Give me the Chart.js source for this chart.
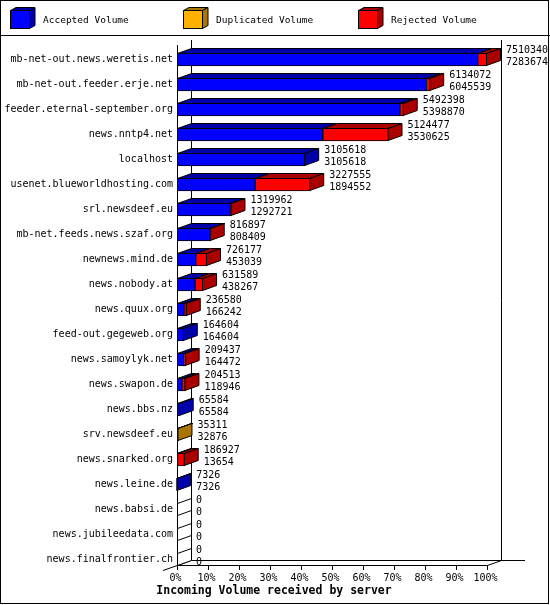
<!DOCTYPE html>
<html><head><meta charset="utf-8">
<script src="https://cdn.jsdelivr.net/npm/chart.js@4.4.0/dist/chart.umd.min.js"></script>
<style>html,body{margin:0;padding:0;background:#fff;}canvas{display:block;}</style>
</head><body>
<canvas id="c" width="550" height="605" style="width:550px;height:605px"></canvas>
<script>
const servers = [
  'mb-net-out.news.weretis.net','mb-net-out.feeder.erje.net','feeder.eternal-september.org',
  'news.nntp4.net','localhost','usenet.blueworldhosting.com','srl.newsdeef.eu',
  'mb-net.feeds.news.szaf.org','newnews.mind.de','news.nobody.at','news.quux.org',
  'feed-out.gegeweb.org','news.samoylyk.net','news.swapon.de','news.bbs.nz',
  'srv.newsdeef.eu','news.snarked.org','news.leine.de','news.babsi.de',
  'news.jubileedata.com','news.finalfrontier.ch'
];
const totalVolume = [7510340,6134072,5492398,5124477,3105618,3227555,1319962,816897,726177,631589,236580,164604,209437,204513,65584,35311,186927,7326,0,0,0];
const acceptedVolume = [7283674,6045539,5398870,3530625,3105618,1894552,1292721,808409,453039,438267,166242,164604,164472,118946,65584,32876,13654,7326,0,0,0];
const duplicatedVolume = [0,0,0,0,0,0,0,0,0,0,0,0,0,0,0,2435,0,0,0,0,0];
const rejectedVolume = [226666,88533,93528,1593852,0,1333003,27241,8488,273138,193322,70338,0,44965,85567,0,0,173273,0,0,0,0];
const tickLabels = ['0%','10%','20%','30%','40%','50%','60%','70%','80%','90%','100%'];
const seriesNames = ['Accepted Volume','Duplicated Volume','Rejected Volume'];
const axisTitle = 'Incoming Volume received by server';

const frontColors = ['#0000FF','#FFB000','#FF0000'];
const sideColors = ['#0000AA','#AA7500','#AA0000'];
const xMax = Math.max(...totalVolume);
const FONT = "'DejaVu Sans Mono','Liberation Mono',monospace";
const DX = 14, DY = -5;

function poly(ctx, pts, fill) {
  ctx.beginPath();
  ctx.moveTo(pts[0][0], pts[0][1]);
  for (let k = 1; k < pts.length; k++) ctx.lineTo(pts[k][0], pts[k][1]);
  ctx.closePath();
  if (fill) { ctx.fillStyle = fill; ctx.fill(); }
  ctx.strokeStyle = '#000'; ctx.lineWidth = 1; ctx.stroke();
}
function line(ctx, x1, y1, x2, y2) {
  ctx.beginPath(); ctx.moveTo(x1, y1); ctx.lineTo(x2, y2);
  ctx.strokeStyle = '#000'; ctx.lineWidth = 1; ctx.stroke();
}

const threeD = {
  id: 'threeD',
  beforeDatasetsDraw(chart) {
    const ctx = chart.ctx, xs = chart.scales.x;
    const L = Math.round(xs.getPixelForValue(0)), R = Math.round(xs.getPixelForValue(xMax));
    const fTop = 45, fBot = 565;
    ctx.save();
    line(ctx, L + 0.5, fTop, L + 0.5, fBot + 0.5);
    line(ctx, L + DX + 0.5, fTop + DY, L + DX + 0.5, fBot + DY + 0.5);
    line(ctx, R + DX + 0.5, fTop + DY, R + DX + 0.5, fBot + DY + 0.5);
    line(ctx, L + DX, fBot + DY + 0.5, 525, fBot + DY + 0.5);
    line(ctx, L, fBot + 0.5, R + 0.5, fBot + 0.5);
    line(ctx, R + 0.5, fBot + 0.5, R + DX + 0.5, fBot + DY + 0.5);
    line(ctx, L - DX, fBot - DY + 0.5, L + DX + 0.5, fBot + DY + 0.5);
    tickLabels.forEach((t, k) => {
      const px = Math.round(xs.getPixelForValue(xMax * k / 10)) + 0.5;
      line(ctx, px, fBot, px, fBot + 5);
    });
    ctx.restore();
  },
  afterDatasetsDraw(chart) {
    const ctx = chart.ctx, xs = chart.scales.x;
    const metas = [0, 1, 2].map(d => chart.getDatasetMeta(d));
    ctx.save();
    for (let i = 0; i < servers.length; i++) {
      let lastColor = null, end = null, top = 0, bot = 0, cy = 0;
      for (let d = 0; d < 3; d++) {
        const el = metas[d].data[i];
        const x0 = Math.min(el.base, el.x), x1 = Math.max(el.base, el.x);
        cy = el.y; top = el.y - el.height / 2 + 0.5; bot = el.y + el.height / 2 - 0.5;
        end = Math.max(end === null ? x1 : end, x1);
        if (x1 - x0 > 0.01) {
          lastColor = sideColors[d];
          poly(ctx, [[x0 + 0.5, top], [x1 - 0.5, top], [x1 - 0.5 + DX, top + DY], [x0 + 0.5 + DX, top + DY]], sideColors[d]);
        }
      }
      const ex = lastColor ? end - 0.5 : end + 0.5;
      poly(ctx, [[ex, top], [ex + DX, top + DY], [ex + DX, bot + DY], [ex, bot]], lastColor || '#fff');
      ctx.fillStyle = '#000';
      ctx.font = '10px ' + FONT;
      ctx.textAlign = 'left'; ctx.textBaseline = 'alphabetic';
      const tx = xs.getPixelForValue(totalVolume[i]) + 19;
      ctx.fillText(String(totalVolume[i]), tx, cy - 6.5);
      ctx.fillText(String(acceptedVolume[i]), tx, cy + 5.5);
    }
    ctx.restore();
  },
  afterDraw(chart) {
    const ctx = chart.ctx, xs = chart.scales.x;
    ctx.save();
    // x tick labels
    ctx.fillStyle = '#000';
    ctx.font = '10px ' + FONT;
    ctx.textAlign = 'center'; ctx.textBaseline = 'alphabetic';
    tickLabels.forEach((t, k) => {
      const px = xs.getPixelForValue(xMax * k / 10);
      ctx.fillText(t, px - 1.5, 581);
    });
    // title
    ctx.font = 'bold 11.5px ' + FONT;
    ctx.fillText(axisTitle, 274, 594);
    // legend
    const lx = [10, 183, 358];
    for (let d = 0; d < 3; d++) {
      const bx = lx[d] + 0.5, by = 10.5, w = 19, h = 18, ox = 5.5, oy = -3;
      ctx.fillStyle = frontColors[d];
      ctx.fillRect(bx, by, w, h);
      ctx.strokeStyle = '#000'; ctx.lineWidth = 1; ctx.strokeRect(bx, by, w, h);
      poly(ctx, [[bx, by], [bx + ox, by + oy], [bx + w + ox, by + oy], [bx + w, by]], sideColors[d]);
      poly(ctx, [[bx + w, by], [bx + w + ox, by + oy], [bx + w + ox, by + h + oy], [bx + w, by + h]], sideColors[d]);
      ctx.fillStyle = '#000';
      ctx.font = '9.5px ' + FONT;
      ctx.textAlign = 'left';
      ctx.fillText(seriesNames[d], lx[d] + 33, 23);
    }
    // separators and border
    line(ctx, 0, 35.5, 550, 35.5);
    ctx.strokeRect(0.5, 0.5, 548, 603);
    ctx.restore();
  }
};

new Chart(document.getElementById('c'), {
  type: 'bar',
  data: {
    labels: servers,
    datasets: [acceptedVolume, duplicatedVolume, rejectedVolume].map((arr, d) => ({
      label: seriesNames[d],
      data: arr,
      backgroundColor: frontColors[d],
      borderColor: '#000',
      borderWidth: 1,
      borderSkipped: false,
      barThickness: 13
    }))
  },
  options: {
    indexAxis: 'y',
    responsive: false,
    maintainAspectRatio: false,
    animation: false,
    layout: { padding: { top: 47, bottom: 33, left: 0, right: 63 } },
    plugins: { legend: { display: false }, tooltip: { enabled: false } },
    scales: {
      x: { type: 'linear', stacked: true, min: 0, max: xMax, display: false },
      y: {
        type: 'category', stacked: true, offset: true,
        grid: { display: false, drawTicks: false },
        border: { display: false },
        ticks: { font: { family: FONT, size: 10 }, color: '#000', padding: 4, autoSkip: false },
        afterFit(s) { s.width = 177; }
      }
    }
  },
  plugins: [threeD]
});
</script>
</body></html>
